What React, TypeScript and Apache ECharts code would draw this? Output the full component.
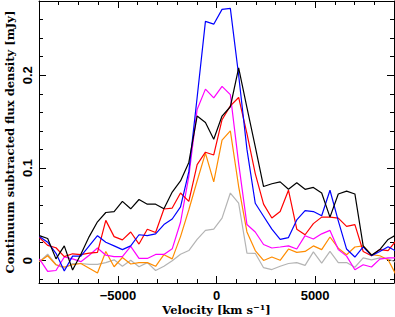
import React, { useEffect, useRef } from "react";
import * as echarts from "echarts";

const velocities = [
  -8981, -8560, -8139, -7718, -7297, -6876, -6455, -6034, -5613, -5192,
  -4771, -4350, -3929, -3508, -3087, -2666, -2245, -1824, -1403, -982,
  -561, -140, 281, 702, 1123, 1544, 1965, 2386, 2807, 3228,
  3649, 4070, 4491, 4912, 5333, 5754, 6175, 6596, 7017, 7438,
  7859, 8280, 8701, 9122,
];

const blackFlux = [
  0.027, 0.024, 0.002, 0.016, -0.010, 0.007, 0.026, 0.042, 0.052, 0.053,
  0.064, 0.056, 0.066, 0.061, 0.061, 0.056, 0.074, 0.086, 0.106, 0.156,
  0.149, 0.131, 0.156, 0.166, 0.208, 0.165, 0.123, 0.080, 0.083, 0.085,
  0.077, 0.084, 0.077, 0.079, 0.073, 0.047, 0.072, 0.075, 0.072, 0.016,
  0.006, 0.012, 0.023, 0.028,
];

const blueFlux = [
  0.026, 0.020, 0.008, -0.011, 0.005, 0.005, 0.016, 0.027, 0.020, 0.016,
  0.012, 0.016, 0.028, 0.027, 0.029, 0.039, 0.045, 0.058, 0.096, 0.176,
  0.258, 0.255, 0.271, 0.272, 0.200, 0.120, 0.062, 0.048, 0.034, 0.023,
  0.025, 0.044, 0.054, 0.053, 0.0485, 0.076, 0.043, 0.0126, 0.004, 0.015,
  0.0055, 0.010, 0.015, 0.010,
];

const magentaFlux = [
  0.002, -0.0115, -0.0105, 0.004, 0.002, -0.001, 0.006, 0.0137, 0.006, 0.0045,
  0.0045, 0.0155, 0.0025, 0.0025, 0.0068, 0.0068, 0.0128, 0.0415, 0.091, 0.163,
  0.185, 0.1755, 0.188, 0.179, 0.105, 0.039, 0.031, 0.0175, 0.0137, 0.0148,
  0.016, 0.0126, 0.027, 0.0234, 0.029, 0.0327, 0.012, 0.005, -0.0097, -0.0043,
  -0.0068, 0.0018, 0.003, 0.003,
];

const redFlux = [
  0.025, 0.0165, 0.014, 0.0045, 0.0075, 0.0065, 0.0083, 0.009, 0.0435, 0.026,
  0.0225, 0.031, 0.018, 0.034, 0.0305, 0.0558, 0.0568, 0.073, 0.064, 0.1036,
  0.117, 0.114, 0.152, 0.167, 0.176, 0.137, 0.094, 0.061, 0.046, 0.053,
  0.076, 0.034, 0.028, 0.040, 0.047, 0.047, 0.046, 0.037, 0.039, 0.010,
  0.0054, 0.012, 0.011, 0.022,
];

const orangeFlux = [
  -0.001, 0.0054, -0.0043, -0.0068, -0.0043, -0.003, -0.008, -0.0133, 0.010, -0.0065,
  0.0035, -0.0035, -0.002, -0.002, -0.006, 0.0065, 0.002, 0.026, 0.055, 0.086,
  0.116, 0.085, 0.130, 0.140, 0.080, 0.031, 0.011, 0.0003, 0.004, 0.0005,
  0.0126, 0.009, 0.010, 0.016, 0.012, 0.0256, 0.0135, 0.0065, 0.0148, 0.016,
  0.0065, 0.0054, 0.001, -0.016,
];

const grayFlux = [
  -0.001, 0.007, -0.0043, -0.008, -0.003, -0.003, -0.004, -0.004, -0.002, 0.001,
  -0.006, 0.0005, -0.0065, -0.002, -0.0105, -0.006, 0.0, 0.007, 0.011, 0.023,
  0.0327, 0.034, 0.046, 0.073, 0.062, 0.0083, 0.008, -0.0075, -0.0095, -0.006,
  -0.003, -0.002, -0.005, 0.0095, -0.0025, 0.010, -0.002, -0.002, -0.007, 0.003,
  0.001, 0.003, 0.002, -0.002,
];

const xMajorTicks = [-5000, 0, 5000];
const xMinorTicks = [-8000, -7000, -6000, -5000, -4000, -3000, -2000, -1000, 0, 1000, 2000, 3000, 4000, 5000, 6000, 7000, 8000];
const yMajorTicks = [0, 0.1, 0.2];
const yMinorTicks = [-0.02, 0, 0.02, 0.04, 0.06, 0.08, 0.1, 0.12, 0.14, 0.16, 0.18, 0.2, 0.22, 0.24, 0.26];

const X_MIN = -9000;
const X_MAX = 9000;
const Y_MIN = -0.024;
const Y_MAX = 0.28;

const LABEL_FONT = "Liberation Sans";
const TITLE_FONT = "DejaVu Serif";

function fmtX(v: number): string {
  if (v < 0) return "\u2212" + String(Math.abs(v));
  return String(v);
}
function fmtY(v: number): string {
  return String(Math.round(v * 10) / 10);
}

export default function App() {
  const ref = useRef<HTMLDivElement>(null);
  useEffect(() => {
    if (!ref.current) return;
    const chart = echarts.init(ref.current, undefined, { renderer: "svg" });
    const lineCol = "#000";
    const baseX = { type: "value", min: X_MIN, max: X_MAX, splitLine: { show: false } };
    const baseY = { type: "value", min: Y_MIN, max: Y_MAX, splitLine: { show: false } };
    const hiddenLine = { show: false, onZero: false };
    const frameLine = { show: true, onZero: false, lineStyle: { color: lineCol, width: 1 } };
    const mk = (vals: number[], color: string, name: string) => ({
      type: "line",
      name,
      data: velocities.map((v, i) => [v, vals[i]]),
      symbol: "none",
      clip: true,
      lineStyle: { color, width: 1.2 },
      xAxisIndex: 0,
      yAxisIndex: 0,
    });
    chart.setOption({
      animation: false,
      grid: { left: 39, right: 1, top: 1, bottom: 34, containLabel: false, outerBoundsMode: "none" },
      xAxis: [
        {
          ...baseX,
          position: "bottom",
          axisLine: frameLine,
          axisTick: { show: true, inside: true, length: 7, customValues: xMajorTicks, lineStyle: { color: lineCol } },
          axisLabel: {
            show: true,
            customValues: xMajorTicks,
            formatter: fmtX,
            fontFamily: LABEL_FONT,
            fontWeight: "bold",
            fontSize: 13,
            lineHeight: 13,
            color: "#000",
            margin: 6,
          },
          name: "Velocity [km s{sup|\u22121}]",
          nameLocation: "middle",
          nameGap: 20,
          nameMoveOverlap: false,
          nameTextStyle: {
            fontFamily: TITLE_FONT,
            fontWeight: "bold",
            fontSize: 11.5,
            lineHeight: 14,
            color: "#000",
            rich: {
              sup: {
                fontFamily: TITLE_FONT,
                fontWeight: "bold",
                fontSize: 8,
                lineHeight: 7,
                color: "#000",
                verticalAlign: "top",
              },
            },
          },
        },
        {
          ...baseX,
          position: "bottom",
          axisLine: hiddenLine,
          axisTick: { show: true, inside: true, length: 4, customValues: xMinorTicks, lineStyle: { color: lineCol } },
          axisLabel: { show: false },
        },
        {
          ...baseX,
          position: "top",
          axisLine: frameLine,
          axisTick: { show: true, inside: true, length: 7, customValues: xMajorTicks, lineStyle: { color: lineCol } },
          axisLabel: { show: false },
        },
        {
          ...baseX,
          position: "top",
          axisLine: hiddenLine,
          axisTick: { show: true, inside: true, length: 4, customValues: xMinorTicks, lineStyle: { color: lineCol } },
          axisLabel: { show: false },
        },
      ],
      yAxis: [
        {
          ...baseY,
          position: "left",
          axisLine: frameLine,
          axisTick: { show: true, inside: true, length: 7, customValues: yMajorTicks, lineStyle: { color: lineCol } },
          axisLabel: {
            show: true,
            customValues: yMajorTicks,
            formatter: fmtY,
            rotate: 90,
            fontFamily: LABEL_FONT,
            fontWeight: "bold",
            fontSize: 13,
            color: "#000",
            margin: 5,
          },
          name: "Continuum subtracted flux density [mJy]",
          nameLocation: "middle",
          nameGap: 23,
          nameMoveOverlap: false,
          nameTextStyle: { fontFamily: TITLE_FONT, fontWeight: "bold", fontSize: 11.5, color: "#000" },
        },
        {
          ...baseY,
          position: "left",
          axisLine: hiddenLine,
          axisTick: { show: true, inside: true, length: 4, customValues: yMinorTicks, lineStyle: { color: lineCol } },
          axisLabel: { show: false },
        },
        {
          ...baseY,
          position: "right",
          axisLine: frameLine,
          axisTick: { show: true, inside: true, length: 7, customValues: yMajorTicks, lineStyle: { color: lineCol } },
          axisLabel: { show: false },
        },
        {
          ...baseY,
          position: "right",
          axisLine: hiddenLine,
          axisTick: { show: true, inside: true, length: 4, customValues: yMinorTicks, lineStyle: { color: lineCol } },
          axisLabel: { show: false },
        },
      ],
      series: [
        mk(grayFlux, "#b4b4b4", "gray"),
        mk(orangeFlux, "#ff8c00", "orange"),
        mk(magentaFlux, "#ff00ff", "magenta"),
        mk(redFlux, "#ff0000", "red"),
        mk(blueFlux, "#0000ff", "blue"),
        mk(blackFlux, "#000000", "black"),
      ],
    });
    return () => chart.dispose();
  }, []);
  return (
    <div
      ref={ref}
      style={{ position: "fixed", left: 0, top: 0, width: 395, height: 317, background: "#fff" }}
    />
  );
}
